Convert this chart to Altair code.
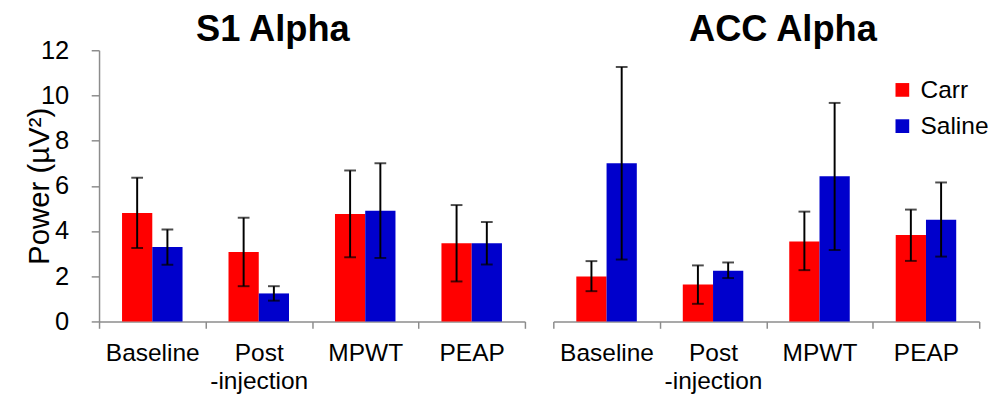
import altair as alt
import pandas as pd

conditions = ["Baseline", "Post\n-injection", "MPWT", "PEAP"]
groups = ["Carr", "Saline"]
colors = ["#FF0000", "#0000CC"]

s1_carr_mean = [4.80, 3.07, 4.76, 3.46]
s1_carr_lo = [3.25, 1.56, 2.84, 1.77]
s1_carr_hi = [6.36, 4.59, 6.68, 5.15]
s1_saline_mean = [3.29, 1.24, 4.90, 3.46]
s1_saline_lo = [2.51, 0.92, 2.81, 2.52]
s1_saline_hi = [4.07, 1.56, 7.00, 4.40]

acc_carr_mean = [1.99, 1.63, 3.54, 3.82]
acc_carr_lo = [1.34, 0.78, 2.27, 2.68]
acc_carr_hi = [2.67, 2.48, 4.86, 4.95]
acc_saline_mean = [7.00, 2.24, 6.42, 4.50]
acc_saline_lo = [2.74, 1.92, 3.16, 2.87]
acc_saline_hi = [11.26, 2.61, 9.67, 6.15]

y_ticks = [0, 2, 4, 6, 8, 10, 12]

FONT = "Liberation Sans"
AXIS_GREY = "#8c8c8c"


def make_df(carr_m, carr_lo, carr_hi, sal_m, sal_lo, sal_hi):
    rows = []
    for i, c in enumerate(conditions):
        rows.append(dict(cond=c, group="Carr", mean=carr_m[i], lo=carr_lo[i], hi=carr_hi[i]))
        rows.append(dict(cond=c, group="Saline", mean=sal_m[i], lo=sal_lo[i], hi=sal_hi[i]))
    return pd.DataFrame(rows)


def panel(df, title, dx, toff, show_y, show_legend):
    base = alt.Chart(df)
    x_axis = alt.Axis(
        title=None, labelAngle=0, tickBand="extent", tickSize=7, tickWidth=1.5,
        domainWidth=1.5, domainColor=AXIS_GREY, tickColor=AXIS_GREY,
        labelFontSize=25, labelLineHeight=28, labelPadding=13, labelColor="black",
        labelExpr="split(datum.label, '\\n')",
    )
    x_scale = alt.Scale(paddingInner=0, paddingOuter=0)
    x_main = alt.X("cond:N", sort=conditions, scale=x_scale, axis=x_axis)
    xoff = alt.XOffset("group:N", sort=groups,
                       scale=alt.Scale(paddingInner=0, paddingOuter=0.76))
    y_scale = alt.Scale(domain=[0, 12], nice=False)
    if show_y:
        y_axis = alt.Axis(
            title="Power (µV²)", values=y_ticks, grid=False, tickSize=8, tickWidth=1.5,
            domainWidth=1.5, domainColor=AXIS_GREY, tickColor=AXIS_GREY,
            labelFontSize=26, labelPadding=23, labelColor="black",
            titleFontSize=30, titleFontWeight="normal", titleColor="black",
            titleX=-52, titleBaseline="alphabetic",
        )
    else:
        y_axis = None
    if show_legend:
        legend = alt.Legend(
            orient="none", legendX=344, legendY=28, title=None,
            symbolType="square", symbolSize=196, symbolStrokeWidth=0,
            labelFontSize=25, labelColor="black", rowPadding=11, labelOffset=6,
        )
    else:
        legend = None
    bars = base.mark_bar().encode(
        x=x_main, xOffset=xoff,
        y=alt.Y("mean:Q", scale=y_scale, axis=y_axis),
        color=alt.Color("group:N", sort=groups,
                        scale=alt.Scale(domain=groups, range=colors), legend=legend),
    )
    rules = base.mark_rule(color="black", strokeWidth=2).encode(
        x=x_main, xOffset=xoff,
        y=alt.Y("lo:Q", scale=y_scale, axis=y_axis), y2="hi:Q",
    )
    cap_hi = base.mark_tick(color="black", size=12, thickness=2).encode(
        x=x_main, xOffset=xoff, y=alt.Y("hi:Q", scale=y_scale, axis=y_axis))
    cap_lo = base.mark_tick(color="black", size=12, thickness=2).encode(
        x=x_main, xOffset=xoff, y=alt.Y("lo:Q", scale=y_scale, axis=y_axis))
    return alt.layer(bars, rules, cap_hi, cap_lo).properties(
        width=435, height=277,
        title=alt.TitleParams(title, fontSize=37, fontWeight="bold", font=FONT,
                              anchor="middle", dx=dx, offset=toff, color="black"),
    )


s1 = panel(make_df(s1_carr_mean, s1_carr_lo, s1_carr_hi,
                   s1_saline_mean, s1_saline_lo, s1_saline_hi),
           "S1 Alpha", -40, -12, True, False)
acc = panel(make_df(acc_carr_mean, acc_carr_lo, acc_carr_hi,
                    acc_saline_mean, acc_saline_lo, acc_saline_hi),
            "ACC Alpha", 17, 1, False, True)

chart = alt.hconcat(s1, acc, spacing=27).resolve_legend(color="independent").properties(
    padding={"left": 16, "top": 0, "right": 0, "bottom": 0}
).configure_view(stroke=None).configure_axis(
    labelFont=FONT, titleFont=FONT
).configure_legend(labelFont=FONT)

chart.save("out.html", embed_options={"renderer": "svg", "actions": False})
